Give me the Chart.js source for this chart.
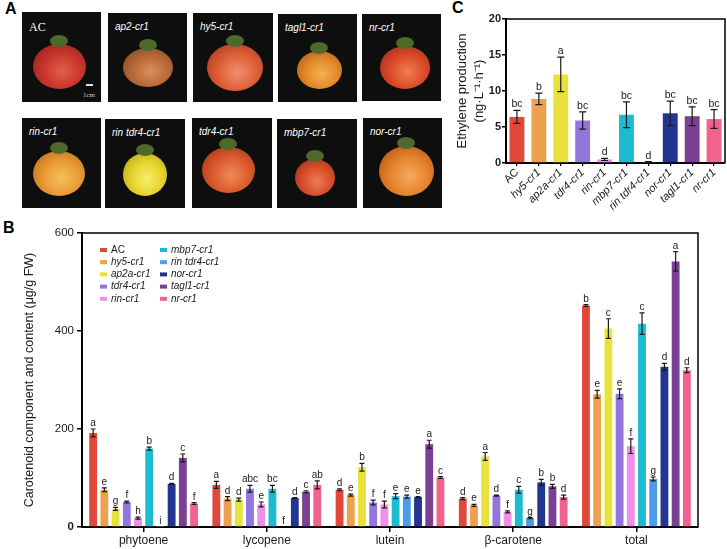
<!DOCTYPE html>
<html><head><meta charset="utf-8">
<script src="https://cdn.jsdelivr.net/npm/chart.js@4.4.1/dist/chart.umd.min.js"></script>
<style>
html,body{margin:0;padding:0;background:#fff;width:727px;height:549px;overflow:hidden;font-family:"Liberation Sans",Arial,sans-serif}
#wrap{position:relative;width:727px;height:549px}
.photo{position:absolute;background:#0e0e0e;overflow:hidden}
.tom{position:absolute;border-radius:50%}
.stem{position:absolute;border-radius:50%;background:#4d6a2b}
.plab{position:absolute;color:#fff;font-style:italic;font-size:10px;white-space:nowrap;line-height:1}
.panel{position:absolute;font-weight:bold;font-size:16px;color:#000;line-height:1}
canvas{position:absolute}
</style></head>
<body><div id="wrap">
<div class="panel" style="left:5px;top:1px">A</div>
<div class="panel" style="left:3px;top:220px">B</div>
<div class="panel" style="left:452px;top:0px">C</div>
<canvas id="chartB" width="710" height="327" style="left:0;top:222px;width:710px;height:327px"></canvas>
<canvas id="chartC" width="307" height="230" style="left:420px;top:0;width:307px;height:230px"></canvas>
</div>
<script>
// ---------- data ----------
const genotypes = ['AC','hy5-cr1','ap2a-cr1','tdr4-cr1','rin-cr1','mbp7-cr1','rin tdr4-cr1','nor-cr1','tagl1-cr1','nr-cr1'];
const seriesColors = ['#E0493A','#EDA04E','#E9E23C','#9475DC','#EE8FEA','#1BBCD0','#4C9CEC','#233592','#7B3F94','#F2628E'];

const ethylene = [6.4, 8.9, 12.3, 5.9, 0.5, 6.7, 0.15, 6.9, 6.5, 6.1];
const ethyleneErr = [0.9, 0.8, 2.4, 1.2, 0.15, 1.8, 0.05, 1.7, 1.3, 1.3];
const ethyleneLetters = ['bc','b','a','bc','d','bc','d','bc','bc','bc'];
const ethyleneTicks = [0, 5, 10, 15, 20];

const components = ['phytoene','lycopene','lutein','β-carotene','total'];
const phytoene = [192, 76, 37, 51, 18, 160, 0.5, 88, 141, 48];
const phytoeneErr = [8, 4, 3, 2, 2, 3, 0, 1, 8, 2];
const phytoeneLetters = ['a','e','g','f','h','b','i','d','c','f'];
const lycopene = [86, 58, 56, 78, 46, 78, 0, 59, 72, 86];
const lycopeneErr = [7, 4, 3, 7, 5, 7, 0, 1, 2, 8];
const lycopeneLetters = ['a','d','d','abc','e','bc','f','d','c','ab'];
const lutein = [76, 65, 122, 50, 46, 63, 62, 61, 169, 101];
const luteinErr = [2, 2, 8, 5, 7, 5, 3, 1, 8, 2];
const luteinLetters = ['d','e','b','f','f','e','e','e','a','c'];
const betaCarotene = [58, 44, 144, 64, 31, 76, 18, 91, 83, 61];
const betaCaroteneErr = [2, 2, 8, 1, 2, 7, 1, 6, 4, 4];
const betaCaroteneLetters = ['d','e','a','d','f','c','g','b','b','d'];
const total = [452, 271, 405, 272, 165, 415, 98, 327, 542, 320];
const totalErr = [2, 8, 20, 10, 15, 22, 4, 7, 20, 5];
const totalLetters = ['b','e','c','e','f','c','g','d','a','d'];
const carotenoidTicks = [0, 200, 400, 600];

// ---------- panel A photo placeholders (decorative) ----------
const photoPanels = [
 ['AC',[22,12,101,102],[59,66,53,45],['#e0604a','#c9362b','#8a1e18'],true],
 ['ap2-cr1',[108,13,187,102],[148,67,50,39],['#d8905a','#b9683a','#6a4a22']],
 ['hy5-cr1',[193,13,273,102],[235,67,56,47],['#f09070','#de5f36','#9a3018']],
 ['tagl1-cr1',[278,14,357,102],[319,70,45,38],['#f4b050','#e48a2a','#a0501a']],
 ['nr-cr1',[362,14,441,101],[405,67,50,43],['#f08050','#dc4a28','#90241a']],
 ['rin-cr1',[22,118,101,208],[59,173,52,45],['#f6c060','#e99a35','#b0601c']],
 ['rin tdr4-cr1',[105,119,185,208],[145,174,44,43],['#f6ee70','#e6d42e','#a89a18']],
 ['tdr4-cr1',[192,118,272,208],[228,170,53,46],['#f08a5a','#dc5a2c','#962c16']],
 ['mbp7-cr1',[277,119,357,208],[315,177,40,37],['#ec7e54','#d84e2a','#902a16']],
 ['nor-cr1',[363,118,442,208],[406,171,55,50],['#f4aa60','#e6822c','#a04a18']]
];
const wrap = document.getElementById('wrap');
photoPanels.forEach(([lab,r,t,c,serif])=>{
  const p=document.createElement('div'); p.className='photo';
  Object.assign(p.style,{left:r[0]+'px',top:r[1]+'px',width:(r[2]-r[0])+'px',height:(r[3]-r[1])+'px'});
  const tm=document.createElement('div'); tm.className='tom';
  Object.assign(tm.style,{left:(t[0]-t[2]/2-r[0])+'px',top:(t[1]-t[3]/2-r[1])+'px',width:t[2]+'px',height:t[3]+'px',
    background:`radial-gradient(ellipse at 55% 60%, ${c[0]} 0%, ${c[1]} 45%, ${c[2]} 100%)`});
  p.appendChild(tm);
  const st=document.createElement('div'); st.className='stem';
  Object.assign(st.style,{left:(t[0]-9-r[0])+'px',top:(t[1]-t[3]/2-9-r[1])+'px',width:'18px',height:'12px'});
  p.appendChild(st);
  const l=document.createElement('div'); l.className='plab'; l.textContent=lab;
  Object.assign(l.style,{left:'7px',top:'9px'});
  if(serif){l.style.fontStyle='normal';l.style.fontFamily='"Liberation Serif","Times New Roman",serif';l.style.fontSize='12px';}
  p.appendChild(l);
  if(serif){
    const sb=document.createElement('div');
    Object.assign(sb.style,{position:'absolute',left:'64px',top:'72px',width:'7px',height:'1.5px',background:'#ddd'});
    p.appendChild(sb);
    const cm=document.createElement('div'); cm.textContent='1cm';
    Object.assign(cm.style,{position:'absolute',left:'61px',top:'80px',color:'#ccc',fontSize:'7px',fontFamily:'"Liberation Serif",serif',lineHeight:'1'});
    p.appendChild(cm);
  }
  wrap.appendChild(p);
});

// ---------- plugins ----------
const FONT = '"Liberation Sans", Arial, sans-serif';
const errorBarPlugin = {
  id:'errbars',
  afterDatasetsDraw(chart, args, opts){
    const ctx=chart.ctx, ys=chart.scales.y;
    ctx.save();
    chart.data.datasets.forEach((ds,di)=>{
      const meta=chart.getDatasetMeta(di);
      meta.data.forEach((bar,i)=>{
        const v=ds.data[i], e=ds.errors[i];
        const yt=ys.getPixelForValue(v+e), yb=ys.getPixelForValue(Math.max(0,v-e));
        if(e>0){
          ctx.strokeStyle='#1a1a1a'; ctx.lineWidth=opts.lw;
          ctx.beginPath();
          ctx.moveTo(bar.x,yt); ctx.lineTo(bar.x,yb);
          ctx.moveTo(bar.x-opts.cap,yt); ctx.lineTo(bar.x+opts.cap,yt);
          ctx.moveTo(bar.x-opts.cap,yb); ctx.lineTo(bar.x+opts.cap,yb);
          ctx.stroke();
        }
        ctx.fillStyle='#1a1a1a';
        ctx.font=opts.fontSize+'px '+FONT;
        ctx.textAlign='center'; ctx.textBaseline='alphabetic';
        ctx.fillText(ds.letters[i], bar.x, Math.min(yt, ys.getPixelForValue(v)) - opts.gap);
      });
    });
    ctx.restore();
  }
};
const boxPlugin = {
  id:'box',
  afterDraw(chart, args, opts){
    const {ctx, chartArea:a}=chart;
    ctx.save(); ctx.strokeStyle='#000'; ctx.lineWidth=opts.lw;
    ctx.beginPath(); ctx.moveTo(a.left,a.top); ctx.lineTo(a.right,a.top); ctx.lineTo(a.right,a.bottom); ctx.stroke();
    ctx.restore();
  }
};
const columnLegendPlugin = {
  id:'colLegend',
  afterDraw(chart, args, opts){
    const ctx=chart.ctx;
    ctx.save();
    chart.data.datasets.forEach((ds,i)=>{
      const col=Math.floor(i/opts.rows), row=i%opts.rows;
      const x=opts.x[col], y=opts.y0+row*opts.dy;
      ctx.fillStyle=ds.backgroundColor;
      ctx.fillRect(x, y-2, 7, 4);
      ctx.fillStyle='#1a1a1a';
      ctx.font=(ds.label==='AC'?'':'italic ')+opts.fontSize+'px '+FONT;
      ctx.textAlign='left'; ctx.textBaseline='middle';
      ctx.fillText(ds.label, x+11, y);
    });
    ctx.restore();
  }
};

// ---------- chart B ----------
const compValues = [phytoene, lycopene, lutein, betaCarotene, total];
const compErrs = [phytoeneErr, lycopeneErr, luteinErr, betaCaroteneErr, totalErr];
const compLetters = [phytoeneLetters, lycopeneLetters, luteinLetters, betaCaroteneLetters, totalLetters];

new Chart(document.getElementById('chartB'), {
  type:'bar',
  data:{
    labels:components,
    datasets:genotypes.map((g,i)=>({
      label:g,
      data:compValues.map(a=>a[i]),
      errors:compErrs.map(a=>a[i]),
      letters:compLetters.map(a=>a[i]),
      backgroundColor:seriesColors[i],
      borderWidth:0,
      categoryPercentage:0.91,
      barPercentage:0.7
    }))
  },
  options:{
    responsive:false, animation:false,
    layout:{padding:{top:11,right:12,left:0,bottom:0}},
    plugins:{
      legend:{display:false}, tooltip:{enabled:false},
      errbars:{lw:1.2, cap:2.5, fontSize:10, gap:3},
      box:{lw:1.5},
      colLegend:{rows:5, x:[100,160], y0:28, dy:12.2, fontSize:10}
    },
    scales:{
      x:{
        grid:{display:true, drawOnChartArea:false, offset:false, tickLength:5, color:'#000', lineWidth:1.5},
        border:{display:true, color:'#000', width:2},
        ticks:{font:{size:12, family:FONT}, color:'#1a1a1a', padding:1},
        afterFit:s=>{s.height=22;}
      },
      y:{
        min:0, max:600,
        afterBuildTicks:s=>{s.ticks=carotenoidTicks.map(v=>({value:v}));},
        grid:{display:true, drawOnChartArea:false, tickLength:5, color:'#000', lineWidth:1.5},
        border:{display:true, color:'#000', width:2},
        ticks:{font:ctx=>({size:11.5, family:FONT, weight:ctx.tick && ctx.tick.value===0?'bold':'normal'}), color:'#1a1a1a', padding:3},
        title:{display:true, text:'Carotenoid component and content (μg/g FW)', font:{size:12.5, family:FONT}, color:'#1a1a1a', padding:{top:22,bottom:0}},
        afterFit:s=>{s.width=82;}
      }
    }
  },
  plugins:[errorBarPlugin, boxPlugin, columnLegendPlugin]
});

// ---------- chart C ----------
new Chart(document.getElementById('chartC'), {
  type:'bar',
  data:{
    labels:genotypes,
    datasets:[{
      label:'Ethylene',
      data:ethylene,
      errors:ethyleneErr,
      letters:ethyleneLetters,
      backgroundColor:seriesColors,
      borderWidth:0,
      categoryPercentage:0.8,
      barPercentage:0.85
    }]
  },
  options:{
    responsive:false, animation:false,
    layout:{padding:{top:19,right:2,left:0,bottom:0}},
    plugins:{
      legend:{display:false}, tooltip:{enabled:false},
      errbars:{lw:1.2, cap:3.5, fontSize:10.5, gap:3},
      box:{lw:1.5}
    },
    scales:{
      x:{
        grid:{display:true, drawOnChartArea:false, offset:false, tickLength:3, color:'#000', lineWidth:1.2},
        border:{display:true, color:'#000', width:2},
        ticks:{autoSkip:false, minRotation:45, maxRotation:45, padding:0, color:'#1a1a1a',
          font:ctx=>({size:11, family:FONT, style:ctx.index===0?'normal':'italic'})},
        afterFit:s=>{s.height=67;}
      },
      y:{
        min:0, max:20,
        afterBuildTicks:s=>{s.ticks=ethyleneTicks.map(v=>({value:v}));},
        grid:{display:true, drawOnChartArea:false, tickLength:4, color:'#000', lineWidth:1.5},
        border:{display:true, color:'#000', width:2},
        ticks:{font:{size:11, family:FONT, weight:'bold'}, color:'#1a1a1a', padding:1},
        title:{display:true, text:['Ethylene production','(ng·L⁻¹·h⁻¹)'], font:{size:13, family:FONT, lineHeight:1.3}, color:'#1a1a1a', padding:{top:34,bottom:0}},
        afterFit:s=>{s.width=86;}
      }
    }
  },
  plugins:[errorBarPlugin, boxPlugin]
});
</script>
</body></html>
